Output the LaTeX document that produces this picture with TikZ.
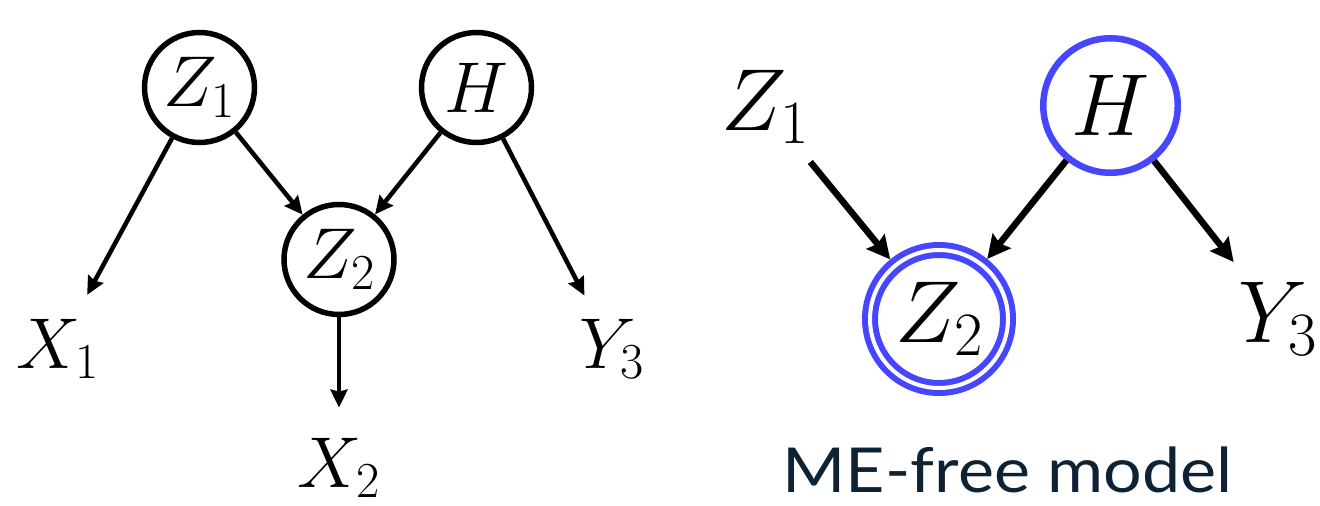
\RequirePackage{fix-cm}
\documentclass[tikz,border=0pt]{standalone}
\usepackage{fontspec}
\newfontfamily\capfont{Lato}
\usetikzlibrary{arrows.meta}
\definecolor{meblue}{RGB}{70,70,255}
\definecolor{navy}{RGB}{14,34,53}
\begin{document}
\begin{tikzpicture}[x=1pt,y=-1pt,
  lfont/.style={font=\fontsize{72}{80}\selectfont},
  rfont/.style={font=\fontsize{88}{96}\selectfont},
  lnode/.style={circle,draw,line width=5.5pt,minimum size=110pt,inner sep=0pt,lfont},
  ltext/.style={inner sep=0pt,anchor=base,lfont},
  larrow/.style={line width=4.5pt,-{Stealth[length=18pt,width=17pt,inset=2pt]}},
  rtext/.style={inner sep=0pt,anchor=base,rfont},
  rnode/.style={circle,draw=meblue,line width=6.5pt,minimum size=134.5pt,inner sep=0pt,rfont},
  rdouble/.style={circle,draw=meblue,line width=6pt,double=white,double distance=4pt,minimum size=138pt,inner sep=0pt,outer sep=8pt,rfont},
  rarrow/.style={line width=6.5pt,-{Stealth[length=23pt,width=23pt,inset=3pt]}},
  caption/.style={inner sep=0pt,anchor=base,text=navy,font=\capfont\fontsize{62}{70}\selectfont}]
\useasboundingbox (0,0) rectangle (1320,506);
% left diagram
\node[lnode] (Z1) at (199.5,87.5) {$Z_1$};
\node[lnode] (H) at (476.5,87.5) {$H$};
\node[lnode] (Z2) at (339,259.5) {$Z_2$};
\node[ltext] (X1) at (58,368) {$X_1$};
\node[ltext] (X2) at (339,487) {$X_2$};
\node[ltext] (Y3) at (612,368) {$Y_3$};
\draw[larrow,shorten >=27pt] (Z1) -- (X1);
\draw[larrow] (Z1) -- (Z2);
\draw[larrow] (H) -- (Z2);
\draw[larrow,shorten >=26pt] (H) -- (Y3);
\draw[larrow,shorten >=30pt] (Z2) -- (X2);
% right diagram
\node[rtext] (RZ1) at (765,130) {$Z_1$};
\node[rnode] (RH) at (1110.5,105.5) {$H$};
\node[rdouble] (RZ2) at (939,319) {$Z_2$};
\node[rtext] (RY3) at (1278,342) {$Y_3$};
\draw[rarrow,shorten <=24pt] (RZ1) -- (RZ2);
\draw[rarrow] (RH) -- (RZ2);
\draw[rarrow,shorten >=25pt] (RH) -- (RY3);
\node[caption] (cap) at (1007.5,492) {\scalebox{1.1}[1]{ME-free model}};
\end{tikzpicture}
\end{document}
